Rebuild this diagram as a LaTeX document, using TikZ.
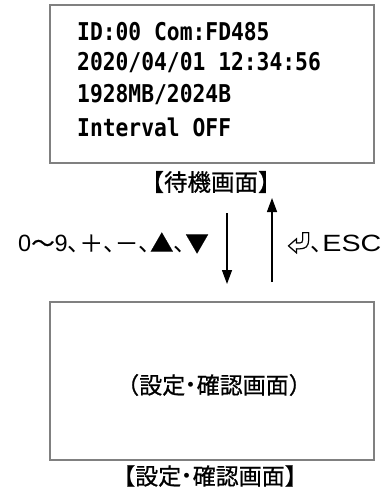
\documentclass[tikz,border=0pt]{standalone}
\usepackage{fontspec}
\setmainfont{Liberation Sans}
\newfontfamily\jpfont{Noto Sans CJK JP}[FakeBold=0.7]
\newfontfamily\jphalf{Noto Sans CJK JP}[CharacterWidth=AlternateHalf]
\newfontfamily\lcdfont{DejaVu Sans Mono}
\newfontfamily\widesans{Liberation Sans}[FakeStretch=1.22]
\usetikzlibrary{arrows.meta}
\newcommand{\tc}{{\jphalf 、}}
\tikzset{
  screen/.style={draw=black!50, line width=2pt, minimum width=324pt, minimum height=158pt, anchor=north west, inner sep=0pt},
  lcd/.style={anchor=west, inner sep=0pt, font=\lcdfont\bfseries\fontsize{21.3}{21.3}\selectfont},
  caption/.style={inner sep=0pt, font=\jpfont\fontsize{23.5}{23.5}\selectfont},
  keys/.style={inner sep=0pt, font=\fontsize{23.5}{23.5}\selectfont},
  flow/.style={line width=1.3pt, -{Triangle[length=14pt,width=10pt]}}
}
\begin{document}
\begin{tikzpicture}[x=1pt,y=-1pt]
\useasboundingbox (0,0) rectangle (381,494);
% standby screen
\node[screen] (standby) at (49,4) {};
\node[lcd] (l1) at (77,32) {\scalebox{1}[1.15]{ID:00 Com:FD485}};
\node[lcd] (l2) at (77,63) {\scalebox{1}[1.15]{2020/04/01 12:34:56}};
\node[lcd] (l3) at (77,95) {\scalebox{1}[1.15]{1928MB/2024B}};
\node[lcd] (l4) at (77,127) {\scalebox{1}[1.15]{Interval OFF}};
\node[caption] (cap1) at (211,182) {【待機画面】};
% setting screen
\node[screen] (setting) at (49,301) {};
\node[caption, font=\jpfont\fontsize{23}{23}\selectfont] (inner) at (214,385) {（設定{\jphalf・}確認画面）};
\node[caption, font=\jpfont\fontsize{23}{23}\selectfont] (cap2) at (210,476) {【設定{\jphalf・}確認画面】};
% arrows
\coordinate (d1) at (227,213);
\coordinate (d2) at (227,284);
\coordinate (u1) at (272,282);
\coordinate (u2) at (272,198);
\draw[flow] (d1) -- (d2);
\draw[flow] (u1) -- (u2);
% key labels
\node[keys, anchor=east] (kl) at (209,243) {0{\jpfont 〜}9\tc{\jpfont ＋}\tc{\jpfont －}\tc{\jpfont ▲}\tc{\jpfont ▼}};
\node[keys, anchor=west] (kr) at (287,243) {{\jpfont ⏎}\tc{\widesans ESC}};
\end{tikzpicture}
\end{document}
